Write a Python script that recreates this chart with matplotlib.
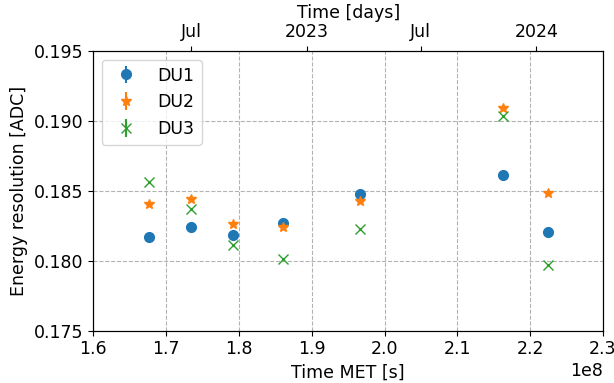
import datetime as dt

import numpy as np
import matplotlib
matplotlib.use("Agg")
import matplotlib.pyplot as plt
import matplotlib.dates as mdates
from matplotlib.ticker import FuncFormatter


# MET epoch (IXPE): 2017-01-01
EPOCH = dt.datetime(2017, 1, 1)

met = [1.6766e8, 1.7340e8, 1.7915e8, 1.8610e8, 1.9668e8, 2.1634e8, 2.2240e8]
du1 = [0.18168, 0.18244, 0.18182, 0.18272, 0.18476, 0.18609, 0.18203]
du2 = [0.18404, 0.18440, 0.18263, 0.18244, 0.18423, 0.19089, 0.18487]
du3 = [0.18559, 0.18368, 0.18112, 0.18010, 0.18227, 0.19032, 0.17969]
err = [0.00004] * 7

labels = ["DU1", "DU2", "DU3"]
markers = ["o", "*", "x"]


def met2num(t):
    return mdates.date2num(EPOCH + dt.timedelta(seconds=float(t)))


def date_fmt(x, pos=None):
    d = mdates.num2date(x)
    if d.month == 1:
        return d.strftime("%Y")
    return d.strftime("%b")


plt.rcParams["font.size"] = 12.5

fig, ax = plt.subplots(figsize=(6.14, 3.83), dpi=100)

for vals, lab, mk in zip([du1, du2, du3], labels, markers):
    ax.errorbar(met, vals, yerr=err, fmt=mk, label=lab, markersize=7)

ax.set_xlim(1.6e8, 2.3e8)
ax.set_ylim(0.175, 0.195)
ax.set_xlabel("Time MET [s]")
ax.set_ylabel("Energy resolution [ADC]")
ax.grid(True, linestyle="--", color="gray", alpha=0.6)
ax.legend(loc="upper left")

ax2 = ax.twiny()
ax2.set_xlim(met2num(1.6e8), met2num(2.3e8))
ax2.xaxis.set_major_locator(mdates.MonthLocator(bymonth=[1, 7]))
ax2.xaxis.set_major_formatter(FuncFormatter(date_fmt))
ax2.set_xlabel("Time [days]")

fig.subplots_adjust(left=0.152, right=0.982, top=0.867, bottom=0.137)
fig.savefig("out.png", dpi=100)
